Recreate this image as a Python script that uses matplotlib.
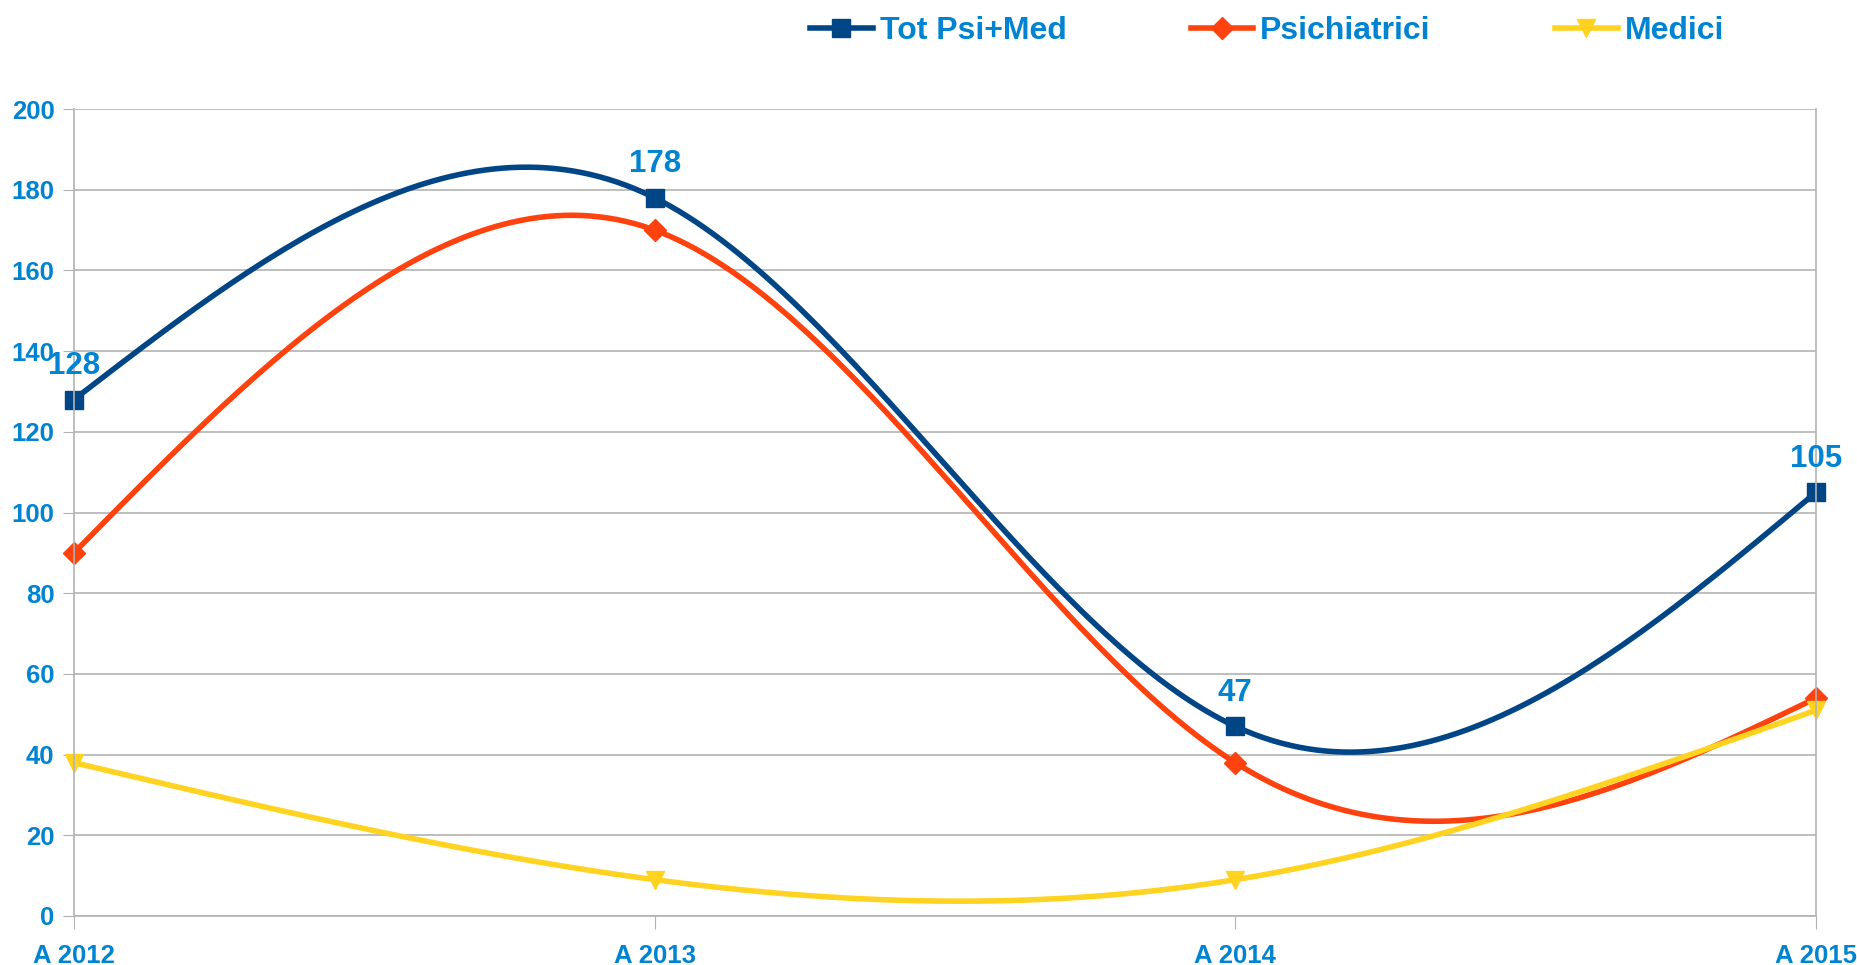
import numpy as np
import matplotlib.pyplot as plt

years = ["A 2012", "A 2013", "A 2014", "A 2015"]
tot = [128, 178, 47, 105]
psichiatrici = [90, 170, 38, 54]
medici = [38, 9, 9, 51]

plt.rcParams['font.family'] = ['Liberation Sans', 'DejaVu Sans']
plt.rcParams['font.weight'] = 'bold'
BLUE_TXT = '#0084d1'


def natural_spline(y, n=200):
    # natural cubic spline through equally spaced points, like the office chart smoothing
    y = np.asarray(y, float)
    k = len(y)
    A = np.zeros((k, k))
    b = np.zeros(k)
    A[0, 0] = A[-1, -1] = 1
    for i in range(1, k - 1):
        A[i, i - 1:i + 2] = [1, 4, 1]
        b[i] = 6 * (y[i + 1] - 2 * y[i] + y[i - 1])
    m = np.linalg.solve(A, b)
    xs = np.linspace(0, k - 1, n)
    idx = np.minimum(xs.astype(int), k - 2)
    t = xs - idx
    ys = ((1 - t) * y[idx] + t * y[idx + 1]
          + ((1 - t) ** 3 - (1 - t)) * m[idx] / 6 + (t ** 3 - t) * m[idx + 1] / 6)
    return xs, ys


fig = plt.figure(figsize=(18.58, 9.65), dpi=100)
ax = fig.add_axes([0.0398, 0.0508, 0.9376, 0.8362])

series = [("Tot Psi+Med", tot, '#004586', 's', 12.5),
          ("Psichiatrici", psichiatrici, '#ff420e', 'D', 11),
          ("Medici", medici, '#ffd320', 'v', 13.5)]
x = np.arange(len(years))
handles = []
for name, vals, col, mk, ms in series:
    xs, ys = natural_spline(vals)
    ax.plot(xs, ys, color=col, lw=4, clip_on=False)
    ax.plot(x, vals, ls='none', marker=mk, color=col, ms=ms, clip_on=False)
    h, = ax.plot([], [], color=col, lw=4, marker=mk, ms=ms, label=name)
    handles.append(h)

for xi, v in zip(x, tot):
    ax.annotate(str(v), (xi, v), xytext=(0, 24), textcoords='offset points',
                ha='center', va='center', fontsize=22.5, color=BLUE_TXT, fontweight='bold')

ax.set_xlim(0, 3)
ax.set_ylim(0, 200)
ax.set_yticks(range(0, 201, 20))
ax.set_xticks(x)
ax.set_xticklabels(years)
ax.yaxis.grid(True, color='#b3b3b3', lw=1.2)
ax.set_axisbelow(True)
for s in ['left', 'right', 'bottom']:
    ax.spines[s].set_color('#b3b3b3')
    ax.spines[s].set_linewidth(1.2)
ax.spines['top'].set_visible(False)
ax.tick_params(axis='y', length=8, color='#b3b3b3', pad=6, labelsize=18.5, labelcolor=BLUE_TXT)
ax.tick_params(axis='x', length=9, color='#b3b3b3', pad=11, labelsize=18.5, labelcolor=BLUE_TXT)

leg = fig.legend(handles=handles, loc='center', bbox_to_anchor=(0.682, 0.968), ncol=3,
                 frameon=False, fontsize=23, handlelength=1.95, handletextpad=0.22,
                 columnspacing=3.9)
for t in leg.get_texts():
    t.set_color(BLUE_TXT)
    t.set_fontweight('bold')

fig.savefig('out.png', dpi=100)
